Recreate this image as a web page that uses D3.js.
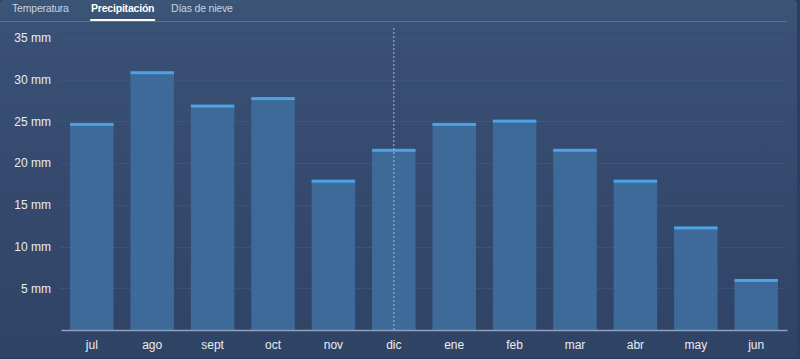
<!DOCTYPE html>
<html>
<head>
<meta charset="utf-8">
<script src="https://cdn.jsdelivr.net/npm/d3@7"></script>
<style>
  html, body { margin: 0; padding: 0; background: #2c3f5e; }
  svg { display: block; font-family: "Segoe UI", "Open Sans", "Noto Sans", sans-serif; }
</style>
</head>
<body>
<div id="chart"></div>
<script>
// data
var months = ["jul", "ago", "sept", "oct", "nov", "dic", "ene", "feb", "mar", "abr", "may", "jun"];
var rain = [24.7, 30.9, 26.9, 27.8, 17.9, 21.6, 24.7, 25.1, 21.6, 17.9, 12.3, 6.0];
var yTicks = [5, 10, 15, 20, 25, 30, 35];
var tabs = ["Temperatura", "Precipitación", "Días de nieve"];
var activeTab = 1;
var hoverMonth = "dic";

var width = 800, height = 359;
var margin = { top: 28, right: 13, bottom: 29, left: 60 };

var svg = d3.select("#chart").append("svg")
  .attr("width", width)
  .attr("height", height);

// background gradient
var defs = svg.append("defs");
var bg = defs.append("linearGradient").attr("id", "bg")
  .attr("x1", 0).attr("y1", 0).attr("x2", 0).attr("y2", 1);
bg.append("stop").attr("offset", "0%").attr("stop-color", "#3b5676");
bg.append("stop").attr("offset", "12%").attr("stop-color", "#394f74");
bg.append("stop").attr("offset", "100%").attr("stop-color", "#2f4365");

svg.append("rect").attr("width", width - 3).attr("height", height - 2)
  .attr("rx", 4).attr("fill", "url(#bg)");

var x = d3.scaleBand()
  .domain(months)
  .range([margin.left + 1, width - margin.right])
  .paddingInner(0.28)
  .paddingOuter(0.15);

var y = d3.scaleLinear()
  .domain([0, 35])
  .range([height - margin.bottom, 38]);

// tabs
var tabX = [12, 91, 171];
var tabG = svg.append("g")
  .attr("font-family", "'Liberation Sans', Arial, sans-serif");
tabG.selectAll("text").data(tabs).join("text")
  .attr("x", (d, i) => tabX[i])
  .attr("y", 12)
  .attr("font-size", 10.5)
  .attr("letter-spacing", -0.2)
  .attr("font-weight", (d, i) => i == activeTab ? 700 : 400)
  .attr("fill", (d, i) => i == activeTab ? "#ffffff" : "#c9d3e0")
  .text(d => d);
svg.append("line")
  .attr("x1", 0).attr("x2", 787)
  .attr("y1", 21.5).attr("y2", 21.5)
  .attr("stroke", "#5a7196").attr("stroke-width", 1);
var activeNode = tabG.selectAll("text").nodes()[activeTab];
var bb = activeNode.getBBox();
svg.append("line")
  .attr("x1", bb.x).attr("x2", bb.x + bb.width)
  .attr("y1", 20).attr("y2", 20)
  .attr("stroke", "#ffffff").attr("stroke-width", 2)
  .attr("stroke-linecap", "round");

// gridlines
svg.append("g")
  .selectAll("line").data(yTicks).join("line")
  .attr("x1", margin.left).attr("x2", width - margin.right - 2)
  .attr("y1", d => Math.round(y(d)) + 0.5).attr("y2", d => Math.round(y(d)) + 0.5)
  .attr("stroke", "#46608a").attr("stroke-opacity", 0.45);

// y axis labels
var yAxis = d3.axisLeft(y).tickValues(yTicks).tickSize(0).tickPadding(0)
  .tickFormat(d => d + " mm");
svg.append("g")
  .attr("transform", `translate(51,0)`)
  .call(yAxis)
  .call(g => g.select(".domain").remove())
  .call(g => g.selectAll("text").attr("fill", "#e8edf4").attr("font-size", 12)
    .attr("font-family", "inherit"));

// bars
var bars = svg.append("g");
bars.selectAll("rect.bar").data(rain).join("rect")
  .attr("class", "bar")
  .attr("x", (d, i) => x(months[i]))
  .attr("y", d => y(d))
  .attr("width", x.bandwidth())
  .attr("height", d => y(0) - y(d))
  .attr("fill", "#3e6a9a");
bars.selectAll("rect.cap").data(rain).join("rect")
  .attr("class", "cap")
  .attr("x", (d, i) => x(months[i]))
  .attr("y", d => y(d) - 1)
  .attr("width", x.bandwidth())
  .attr("height", 3)
  .attr("fill", "#4ba3e6");

// x axis
var xAxis = d3.axisBottom(x).tickSize(0).tickPadding(10);
svg.append("g")
  .attr("transform", `translate(0,${y(0)})`)
  .call(xAxis)
  .call(g => g.select(".domain").attr("stroke", "#8ea0bb").attr("stroke-width", 1.5))
  .call(g => g.selectAll("text").attr("fill", "#e8edf4").attr("font-size", 12)
    .attr("font-family", "inherit"));

// hover line
var hx = x(hoverMonth) + x.bandwidth() / 2;
svg.append("line")
  .attr("x1", hx).attr("x2", hx)
  .attr("y1", 28).attr("y2", y(0))
  .attr("stroke", "#a9b9d0").attr("stroke-width", 1)
  .attr("stroke-dasharray", "2,2");
</script>
</body>
</html>
